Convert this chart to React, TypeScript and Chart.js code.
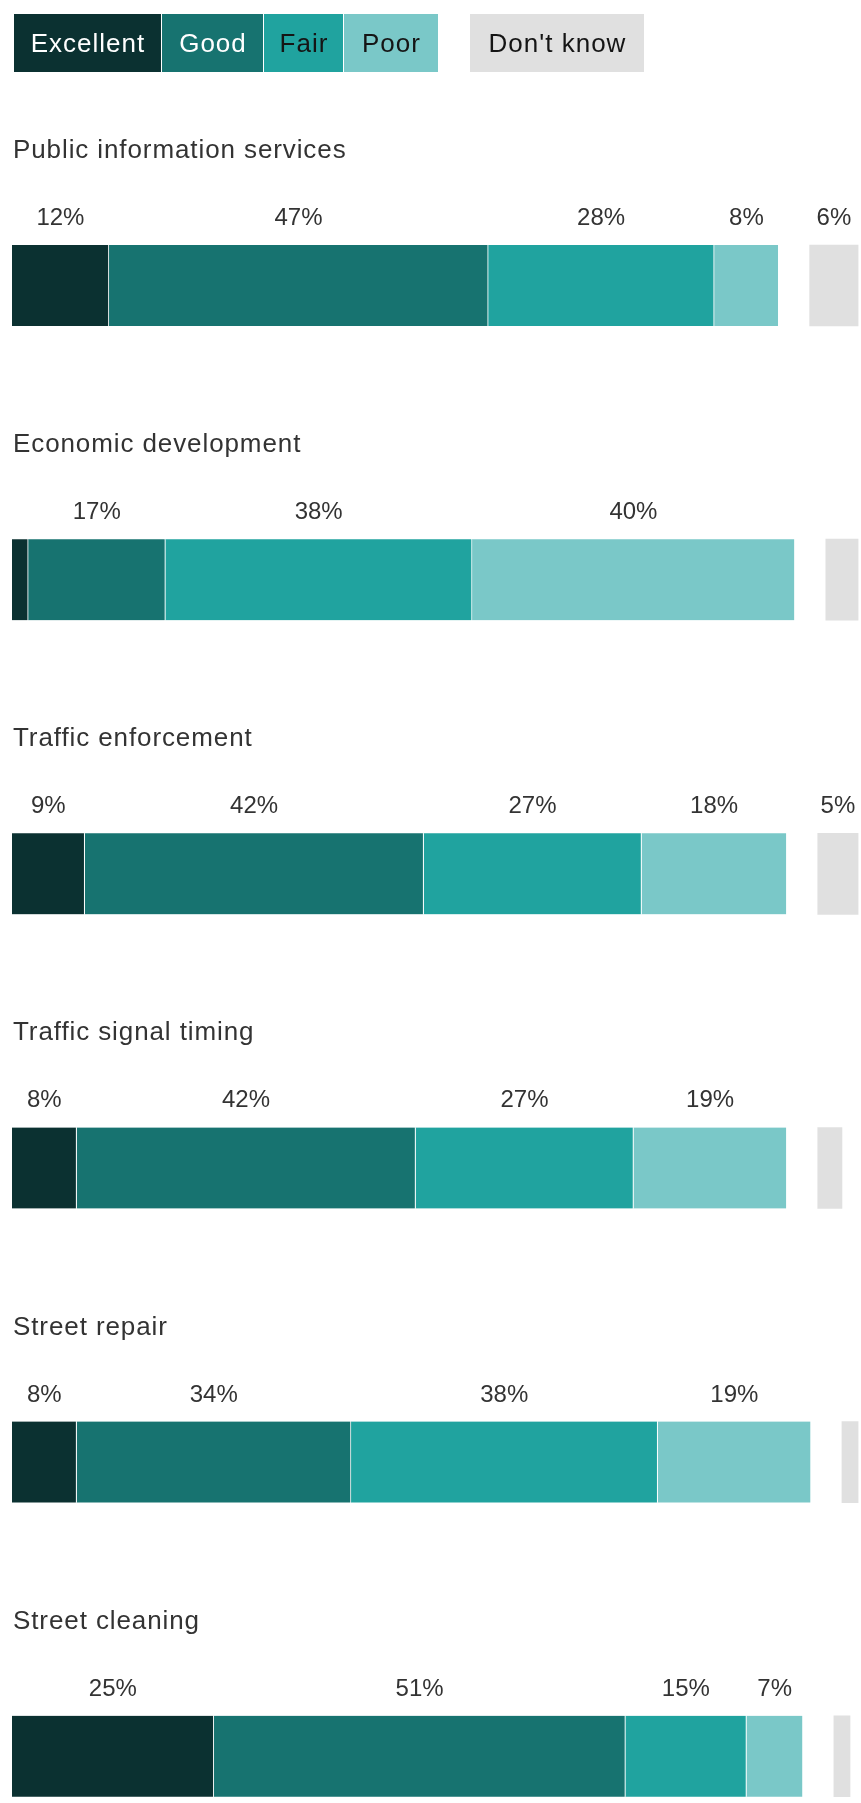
import React, { useEffect, useRef } from "react";
import { Chart, registerables } from "chart.js";

Chart.register(...registerables);

// ---- Data ----
const categories = [
  "Public information services",
  "Economic development",
  "Traffic enforcement",
  "Traffic signal timing",
  "Street repair",
  "Street cleaning",
];
const seriesNames = ["Excellent", "Good", "Fair", "Poor", "Don't know"];
const excellent = [12, 2, 9, 8, 8, 25];
const good = [47, 17, 42, 42, 34, 51];
const fair = [28, 38, 27, 27, 38, 15];
const poor = [8, 40, 18, 19, 19, 7];
const dontKnow = [6, 4, 5, 3, 2, 2];

const seriesColors = ["#0b3131", "#177370", "#20a39f", "#7ac8c8", "#e0e0e0"];
const legendText = ["#ffffff", "#ffffff", "#151515", "#151515", "#151515"];
const legendWidths = [148, 102, 80, 94, 174];

const FONT = "'Liberation Sans', Arial, Helvetica, sans-serif";
const LABEL_MIN = 5;
const DK_GAP = 3.84; // gap (in axis units) before the "Don't know" bar
const X_MAX = 105.2;
const ROW_STEP = 294.16;
const TOP_PAD = 138.4;
const H = 1803;

export default function App() {
  const ref = useRef<HTMLCanvasElement | null>(null);

  useEffect(() => {
    if (!ref.current) return;
    const rated = [excellent, good, fair, poor];
    const allSeries = [excellent, good, fair, poor, dontKnow];

    const datasets: any[] = rated.map((arr, k) => ({
      label: seriesNames[k],
      data: arr.map((v, i) => {
        let start = 0;
        for (let j = 0; j < k; j++) start += rated[j][i];
        return { x: [start, start + v], y: i };
      }),
      backgroundColor: seriesColors[k],
      borderColor: "#ffffff",
      borderWidth: { top: 0, right: 1, bottom: 0, left: 0 },
      borderSkipped: false,
      grouped: false,
      barThickness: 81,
    }));
    datasets.push({
      label: seriesNames[4],
      data: dontKnow.map((v, i) => {
        const total = rated.reduce((s, arr) => s + arr[i], 0);
        return { x: [total + DK_GAP, total + DK_GAP + v], y: i };
      }),
      backgroundColor: seriesColors[4],
      borderWidth: 0,
      grouped: false,
      barThickness: 81,
    });

    const textPlugin = {
      id: "textPlugin",
      afterDatasetsDraw(chart: any) {
        const ctx = chart.ctx as CanvasRenderingContext2D;
        const yScale = chart.scales.y;
        ctx.save();
        // section titles
        ctx.fillStyle = "#333333";
        ctx.font = `26px ${FONT}`;
        (ctx as any).letterSpacing = "0.9px";
        ctx.textAlign = "left";
        ctx.textBaseline = "alphabetic";
        categories.forEach((c, i) => {
          const yc = yScale.getPixelForValue(i);
          ctx.fillText(c, chart.chartArea.left + 1, yc - 127.5);
        });
        // value labels
        (ctx as any).letterSpacing = "0px";
        ctx.font = `24px ${FONT}`;
        ctx.textAlign = "center";
        chart.data.datasets.forEach((ds: any, k: number) => {
          const meta = chart.getDatasetMeta(k);
          meta.data.forEach((el: any, i: number) => {
            const v = allSeries[k][i];
            if (v < LABEL_MIN) return;
            const cx = (el.x + el.base) / 2;
            const top = el.y - el.height / 2;
            ctx.fillText(`${v}%`, cx, top - 20);
          });
        });
        ctx.restore();
      },
    };

    const chart = new Chart(ref.current, {
      type: "bar",
      data: { datasets },
      options: {
        indexAxis: "y",
        animation: false,
        responsive: true,
        maintainAspectRatio: false,
        layout: { padding: { left: 12, right: 0, top: TOP_PAD, bottom: 0 } },
        scales: {
          x: { type: "linear", min: 0, max: X_MAX, display: false, offset: false },
          y: {
            type: "linear",
            min: -0.5,
            max: -0.5 + (H - TOP_PAD) / ROW_STEP,
            reverse: true,
            display: false,
            offset: false,
          },
        },
        plugins: {
          legend: { display: false },
          tooltip: { enabled: false },
        },
      } as any,
      plugins: [textPlugin],
    });
    return () => chart.destroy();
  }, []);

  const legendItems = seriesNames.map((name, k) => (
    <div
      key={name}
      style={{
        background: seriesColors[k],
        color: legendText[k],
        width: legendWidths[k],
        flex: "0 0 auto",
        height: 58,
        lineHeight: "58px",
        textAlign: "center",
        marginLeft: k === 4 ? 32 : 0,
        borderRight: k < 3 ? "1px solid #ffffff" : "none",
        whiteSpace: "nowrap",
        paddingLeft: 1,
        boxSizing: "border-box",
      }}
    >
      {name}
    </div>
  ));

  return (
    <div style={{ position: "absolute", left: 0, top: 0, width: 861, height: H, background: "#ffffff" }}>
      <div style={{ position: "absolute", left: 0, top: 0, width: 861, height: H }}>
        <canvas ref={ref} />
      </div>
      <div
        style={{
          position: "absolute",
          left: 14,
          top: 13.5,
          display: "flex",
          fontFamily: FONT,
          fontSize: 26,
          letterSpacing: "1px",
        }}
      >
        {legendItems}
      </div>
    </div>
  );
}
